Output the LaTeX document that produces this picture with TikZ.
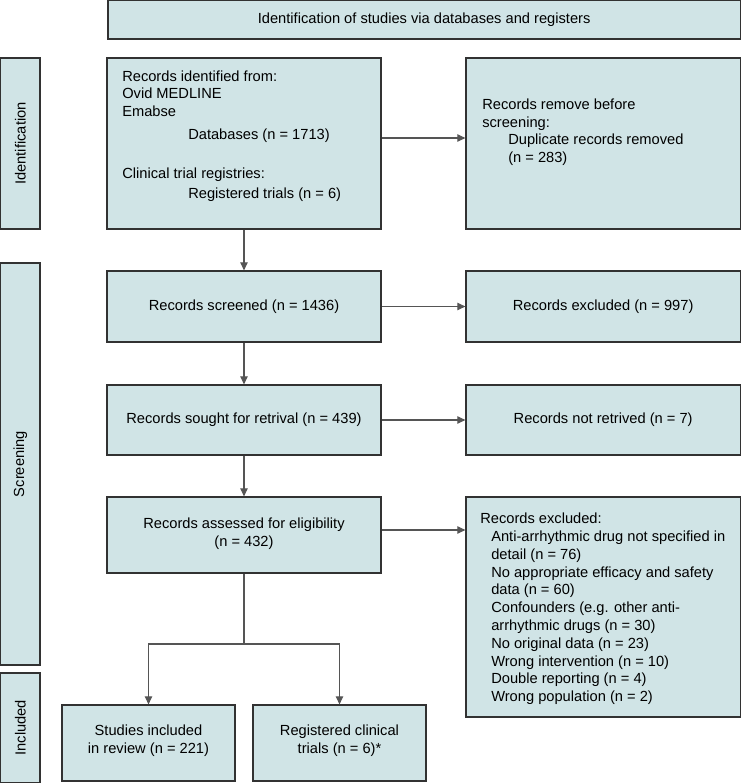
\documentclass[tikz,border=0pt]{standalone}
\usepackage{fontspec}
\setmainfont{Liberation Sans}
\usetikzlibrary{arrows.meta,fit}
\definecolor{boxfill}{RGB}{208,228,230}
\definecolor{boxline}{RGB}{50,50,50}
\definecolor{arrline}{RGB}{85,85,85}
\begin{document}
\begin{tikzpicture}[x=0.75pt,y=-0.75pt,
  font=\fontsize{11}{13.3}\selectfont,
  box/.style={draw=boxline, fill=boxfill, line width=0.9pt, inner sep=0pt},
  conn/.style={draw=arrline, line width=0.8pt, -{Triangle[length=6pt,width=5.5pt]}},
  txt/.style={anchor=base west, inner sep=0pt},
  ctxt/.style={align=center, inner sep=0pt},
  side/.style={rotate=90, inner sep=0pt}]
\useasboundingbox (0,0) rectangle (741,783);
% header
\node[box, fit={(108,0.7) (740.3,39)}] (head) {};
\node[ctxt] (headt) at (head.center) {Identification of studies via databases and registers};
% side boxes
\node[box, fit={(0.7,58) (40,229)}] (sideid) {};
\node[side] (sideidt) at (sideid.center) {Identification};
\node[box, fit={(0.7,263) (40,665)}] (sidescr) {};
\node[side] (sidescrt) at (sidescr.center) {Screening};
\node[box, fit={(0.7,673) (40,782.3)}] (sideinc) {};
\node[side] (sideinct) at (sideinc.center) {Included};
% identification
\node[box, fit={(107,58) (381,229)}] (ident) {};
\node[txt] (id1) at (122,81) {Records identified from:};
\node[txt] (id2) at (122,98.5) {Ovid MEDLINE};
\node[txt] (id3) at (122,116) {Emabse};
\node[txt] (id4) at (188,139) {Databases (n = 1713)};
\node[txt] (id5) at (122,178) {Clinical trial registries:};
\node[txt] (id6) at (188,198) {Registered trials (n = 6)};
\node[box, fit={(466,58) (740.3,229)}] (remove) {};
\node[txt] (rm1) at (482,109) {Records remove before};
\node[txt] (rm2) at (482,127) {screening:};
\node[txt] (rm3) at (508,144) {Duplicate records removed};
\node[txt] (rm4) at (508,162) {(n = 283)};
% screening
\node[box, fit={(107,271) (381,342)}] (screened) {};
\node[ctxt] (screenedt) at (screened.center) {Records screened (n = 1436)};
\node[box, fit={(466,271) (740.3,342)}] (excl1) {};
\node[ctxt] (excl1t) at (excl1.center) {Records excluded (n = 997)};
\node[box, fit={(107,385) (381,455)}] (sought) {};
\node[ctxt] (soughtt) at (sought.center) {Records sought for retrival (n = 439)};
\node[box, fit={(466,385) (740.3,455)}] (notret) {};
\node[ctxt] (notrett) at (notret.center) {Records not retrived (n = 7)};
\node[box, fit={(107,497) (381,573)}] (assess) {};
\node[ctxt] (assesst) at ([yshift=0.75pt]assess.center) {Records assessed for eligibility\\(n = 432)};
\node[box, fit={(466,497) (740.3,717)}] (excl2) {};
\node[txt] (ex0) at (480,523) {Records excluded:};
\node[txt] (ex1) at (491,541) {Anti-arrhythmic drug not specified in};
\node[txt] (ex2) at (491,559) {detail (n = 76)};
\node[txt] (ex3) at (491,577) {No appropriate efficacy and safety};
\node[txt] (ex4) at (491,594) {data (n = 60)};
\node[txt] (ex5) at (491,612) {Confounders (e.g. other anti-};
\node[txt] (ex6) at (491,630) {arrhythmic drugs (n = 30)};
\node[txt] (ex7) at (491,648) {No original data (n = 23)};
\node[txt] (ex8) at (491,666) {Wrong intervention (n = 10)};
\node[txt] (ex9) at (491,683) {Double reporting (n = 4)};
\node[txt] (ex10) at (491,701) {Wrong population (n = 2)};
% included
\node[box, fit={(62,705) (235,781)}] (studies) {};
\node[ctxt] (studiest) at ([yshift=1.5pt]studies.center) {Studies included\\in review (n = 221)};
\node[box, fit={(253,705) (426,781)}] (reg) {};
\node[ctxt] (regt) at ([yshift=1.5pt]reg.center) {Registered clinical\\trials (n = 6)*};
% connectors
\coordinate (y1) at (0,138);
\coordinate (y2) at (0,530);
\coordinate (split) at (244,644);
\draw[conn] (ident.east |- y1) -- (remove.west |- y1);
\draw[conn] (ident.south) -- (screened.north);
\draw[conn] (screened.east) -- (excl1.west);
\draw[conn] (screened.south) -- (sought.north);
\draw[conn] (sought.east) -- (notret.west);
\draw[conn] (sought.south) -- (assess.north);
\draw[conn] (assess.east |- y2) -- (excl2.west |- y2);
\draw[conn] (assess.south) -- (split) -| (studies.north);
\draw[conn] (split) -| (reg.north);
\end{tikzpicture}
\end{document}
